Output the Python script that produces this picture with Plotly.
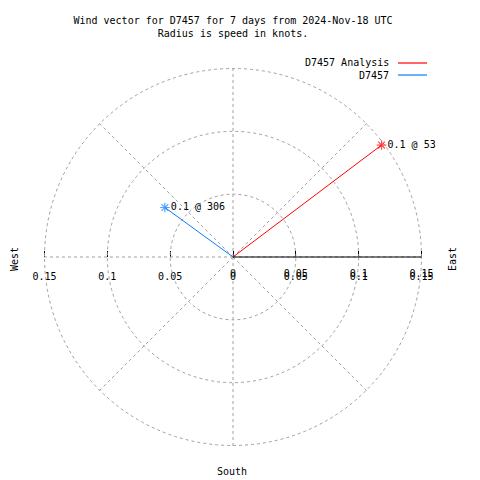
import plotly.graph_objects as go

# ---- data ----
title_lines = ["Wind vector for D7457 for 7 days from 2024-Nov-18 UTC",
               "Radius is speed in knots."]
series_names = ["D7457 Analysis", "D7457"]
speeds = [0.148, 0.067]          # knots
directions = [53, 306]           # degrees (from north, clockwise)
series_colors = ["#ff0000", "#0a7cff"]
radial_tickvals = [0.05, 0.10, 0.15]
axis_tickvals = [-0.15, -0.10, -0.05, 0, 0.05, 0.10, 0.15]
axis_ticktext = ["0.15", "0.1", "0.05", "0", "0.05", "0.1", "0.15"]
dup_tickvals = [0, 0.05, 0.10, 0.15]
dup_ticktext = ["0", "0.05", "0.1", "0.15"]
compass_labels = ["East", "West", "South"]

# ---- geometry ----
W = H = 480
cx, cy, R = 233, 257, 188.5      # centre and pixel radius of 0.15
RMAX = 0.151                     # a bit beyond 0.15 so the outer grid circle is drawn
Rd = R * RMAX / 0.15
FONT = "DejaVu Sans Mono"
xdom = [(cx - Rd) / W, (cx + Rd) / W]
ydom = [(H - cy - Rd) / H, (H - cy + Rd) / H]

fig = go.Figure()

for name, s, d, c in zip(series_names, speeds, directions, series_colors):
    fig.add_trace(go.Scatterpolar(
        r=[0, s], theta=[d, d], mode="lines+markers+text",
        name=name, showlegend=False,
        line=dict(color=c, width=1),
        marker=dict(symbol="asterisk-open", size=[0, 8], color=c,
                    line=dict(color=c, width=1.2)),
        text=["", f"{s:.1f} @ {d}"], textposition="middle right",
        textfont=dict(family=FONT, size=10, color="black"),
        cliponaxis=False,
    ))

# empty cartesian traces to host the horizontal tick-label axes
fig.add_trace(go.Scatter(x=[None], y=[None], xaxis="x", yaxis="y",
                         showlegend=False, hoverinfo="skip"))
fig.add_trace(go.Scatter(x=[None], y=[None], xaxis="x2", yaxis="y",
                         showlegend=False, hoverinfo="skip"))

grid = dict(gridcolor="#a0a0a0", griddash="3px,3px", gridwidth=1)

fig.update_layout(
    width=W, height=H,
    margin=dict(l=0, r=0, t=0, b=0, pad=0, autoexpand=False),
    paper_bgcolor="white", plot_bgcolor="rgba(0,0,0,0)",
    font=dict(family=FONT, size=10, color="black"),
    showlegend=False,
    title=dict(text="<br>".join(title_lines), x=cx / W, xanchor="center",
               yref="container", y=1 - 24 / H, yanchor="top",
               font=dict(family=FONT, size=10, color="black")),
    polar=dict(
        domain=dict(x=xdom, y=ydom),
        bgcolor="rgba(0,0,0,0)",
        radialaxis=dict(range=[0, RMAX], tickvals=radial_tickvals,
                        showticklabels=False, ticks="", angle=0,
                        showline=False, **grid),
        angularaxis=dict(direction="clockwise", rotation=90, dtick=45,
                         showticklabels=False, ticks="", showline=False,
                         **grid),
    ),
    xaxis=dict(domain=xdom, range=[-RMAX, RMAX], anchor="free",
               position=(H - cy) / H, tickvals=axis_tickvals,
               ticktext=axis_ticktext, ticks="inside", ticklen=6,
               tickcolor="black", tickwidth=1, showline=False,
               showgrid=False, zeroline=False, ticklabelstandoff=12,
               automargin=False,
               tickfont=dict(family=FONT, size=10, color="black"),
               fixedrange=True),
    xaxis2=dict(domain=[xdom[0] + 1 / W, xdom[1] + 1 / W], range=[-RMAX, RMAX],
                anchor="free", overlaying="x",
                position=(H - cy) / H, tickvals=dup_tickvals,
                ticktext=dup_ticktext, ticks="inside", ticklen=6,
                tickcolor="rgba(0,0,0,0)", showline=False,
                showgrid=False, zeroline=False, ticklabelstandoff=9,
                automargin=False,
                tickfont=dict(family=FONT, size=10, color="black"),
                fixedrange=True),
    yaxis=dict(domain=ydom, range=[-RMAX, RMAX], visible=False,
               automargin=False, fixedrange=True),
)

# solid black axis from the centre to 0.15 towards East
fig.add_trace(go.Scatterpolar(r=[0, 0.15], theta=[90, 90], mode="lines",
                              line=dict(color="black", width=1.2),
                              showlegend=False, hoverinfo="skip"))

# legend drawn gnuplot-style: text on the left, line sample on the right
legend_y = [63, 75]
for name, c, ly in zip(series_names, series_colors, legend_y):
    fig.add_annotation(text=name, x=391 / W, y=1 - ly / H, xref="paper",
                       yref="paper", xanchor="right", yanchor="middle",
                       showarrow=False, font=dict(family=FONT, size=10))
    fig.add_shape(type="line", xref="paper", yref="paper",
                  x0=398 / W, x1=427 / W, y0=1 - ly / H, y1=1 - ly / H,
                  line=dict(color=c, width=1.2))

# compass labels
compass_pos = [(452, 259, -90), (14, 259, -90), (232, 471, 0)]
for lab, (px, py, ang) in zip(compass_labels, compass_pos):
    fig.add_annotation(text=lab, x=px / W, y=1 - py / H, xref="paper",
                       yref="paper", xanchor="center", yanchor="middle",
                       textangle=ang, showarrow=False,
                       font=dict(family=FONT, size=10))

fig.write_html("out.html", config={"displayModeBar": False},
               post_script="document.body.style.margin='0';")
